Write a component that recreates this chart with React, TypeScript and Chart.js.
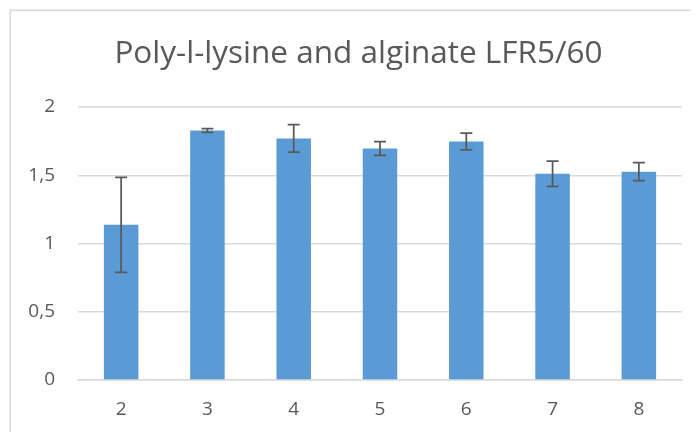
import React, { useEffect, useRef } from "react";
import { Chart, registerables } from "chart.js";

Chart.register(...registerables);

const categories = ["2", "3", "4", "5", "6", "7", "8"];
const values = [1.137, 1.828, 1.77, 1.696, 1.747, 1.511, 1.526];
const errors = [0.348, 0.013, 0.1, 0.05, 0.062, 0.093, 0.066];
const yTickLabels = ["0", "0,5", "1", "1,5", "2"];
const title = "Poly-l-lysine and alginate LFR5/60";

const TEXT = "#595959";
const GRID = "#d9d9d9";
const BAR = "#5b9bd5";
const FONT = "'Open Sans', sans-serif";

const borderPlugin = {
  id: "outerBorder",
  beforeDraw(chart: any) {
    const ctx = chart.ctx;
    ctx.save();
    ctx.fillStyle = "#ffffff";
    ctx.fillRect(0, 0, chart.width, chart.height);
    ctx.strokeStyle = GRID;
    ctx.lineWidth = 1.5;
    ctx.beginPath();
    ctx.moveTo(2.25, chart.height);
    ctx.lineTo(2.25, 2.25);
    ctx.lineTo(chart.width, 2.25);
    ctx.stroke();
    ctx.restore();
  },
};

const unclipPlugin = {
  id: "unclipY",
  afterLayout(chart: any) {
    if (chart.scales.y) chart.scales.y.left = 0;
  },
};

const errorBarPlugin = {
  id: "errorBars",
  afterDatasetsDraw(chart: any) {
    const ctx = chart.ctx;
    const meta = chart.getDatasetMeta(0);
    const y = chart.scales.y;
    ctx.save();
    ctx.strokeStyle = TEXT;
    ctx.lineWidth = 1.75;
    meta.data.forEach((bar: any, i: number) => {
      const x = bar.x;
      const top = y.getPixelForValue(values[i] + errors[i]);
      const bot = y.getPixelForValue(values[i] - errors[i]);
      const cap = 6;
      ctx.beginPath();
      ctx.moveTo(x, top);
      ctx.lineTo(x, bot);
      ctx.moveTo(x - cap, top);
      ctx.lineTo(x + cap, top);
      ctx.moveTo(x - cap, bot);
      ctx.lineTo(x + cap, bot);
      ctx.stroke();
    });
    ctx.restore();
  },
};

export default function App() {
  const ref = useRef<HTMLCanvasElement | null>(null);
  useEffect(() => {
    if (!ref.current) return;
    const chart = new Chart(ref.current, {
      type: "bar",
      data: {
        labels: categories,
        datasets: [
          {
            data: values,
            backgroundColor: BAR,
            borderWidth: 0,
            barPercentage: 0.4,
            categoryPercentage: 1,
          },
        ],
      },
      options: {
        responsive: false,
        animation: false,
        devicePixelRatio: 1,
        layout: { padding: { left: 27, right: 17, top: 0, bottom: 0 } },
        plugins: {
          legend: { display: false },
          tooltip: { enabled: false },
          title: {
            display: true,
            text: title,
            color: TEXT,
            font: { family: FONT, size: 31.5, weight: "normal" as any },
            padding: { top: 27, bottom: 34.2 },
          },
        },
        scales: {
          x: {
            grid: { display: false, drawTicks: false },
            border: { display: true, color: GRID, width: 1.5 },
            ticks: {
              color: TEXT,
              font: { family: FONT, size: 19 },
              padding: 18,
            },
            afterFit(scale: any) {
              scale.height = 52;
            },
          },
          y: {
            min: 0,
            max: 2,
            grid: { color: GRID, lineWidth: 1.5, drawTicks: false },
            border: { display: false },
            ticks: {
              stepSize: 0.5,
              color: TEXT,
              font: { family: FONT, size: 19 },
              padding: 23,
              callback: (_v: any, i: number) => yTickLabels[i],
            },
            afterFit(scale: any) {
              scale.width = 43;
            },
          },
        },
      },
      plugins: [borderPlugin, unclipPlugin, errorBarPlugin],
    });
    return () => chart.destroy();
  }, []);
  return (
    <div style={{ width: 691, height: 424 }}>
      <canvas ref={ref} width={691} height={424} style={{ display: "block" }} />
    </div>
  );
}
